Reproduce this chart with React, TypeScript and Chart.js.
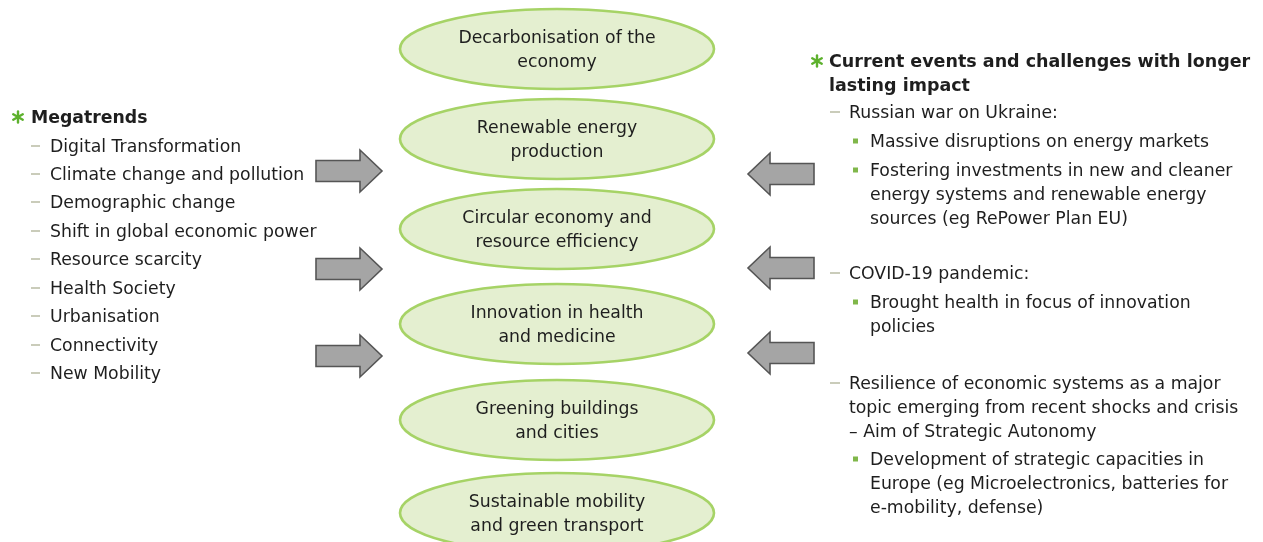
import React, { useEffect, useRef } from "react";
import { Chart, registerables } from "chart.js";
Chart.register(...registerables);

// ---------- content ----------
const focusAreas: string[][] = [
  ["Decarbonisation of the", "economy"],
  ["Renewable energy", "production"],
  ["Circular economy and", "resource efficiency"],
  ["Innovation in health", "and medicine"],
  ["Greening buildings", "and cities"],
  ["Sustainable mobility", "and green transport"],
];
const megatrendsTitle = "Megatrends";
const megatrends = [
  "Digital Transformation",
  "Climate change and pollution",
  "Demographic change",
  "Shift in global economic power",
  "Resource scarcity",
  "Health Society",
  "Urbanisation",
  "Connectivity",
  "New Mobility",
];
const currentTitle = ["Current events and challenges with longer", "lasting impact"];
const currentLevels = [1, 2, 2, 1, 2, 1, 2];
const currentTexts: string[][] = [
  ["Russian war on Ukraine:"],
  ["Massive disruptions on energy markets"],
  ["Fostering investments in new and cleaner", "energy systems and renewable energy", "sources (eg RePower Plan EU)"],
  ["COVID-19 pandemic:"],
  ["Brought health in focus of innovation", "policies"],
  ["Resilience of economic systems as a major", "topic emerging from recent shocks and crisis", "\u2013 Aim of Strategic Autonomy"],
  ["Development of strategic capacities in", "Europe (eg Microelectronics, batteries for", "e-mobility, defense)"],
];

// ---------- layout (canvas units on hidden linear scales) ----------
const focusY = [49, 139, 229, 324, 420, 513];
const focusX = 557;
const rightArrowY = [171, 269, 356];
const leftArrowY = [174, 268, 353];
const megaTitleY = 117;
const megaY = [146, 174, 202, 231, 259, 288, 316, 345, 373];
const currentTitleY = [61, 85];
const currentY = [112, 141, 170, 273, 302, 383, 459];

const FONT = "'DejaVu Sans', Verdana, sans-serif";
const FS = 17.3;
const DY = 1.5;
const TEXT = "#1e1e1e";
const GREEN = "#5db12d";
const DASH = "#b9bba3";
const BULLET = "#80b74a";

function drawStar(ctx: CanvasRenderingContext2D, x: number, y: number) {
  ctx.save();
  ctx.strokeStyle = GREEN;
  ctx.lineWidth = 2.4;
  ctx.lineCap = "round";
  const r = 5.5;
  for (let k = 0; k < 3; k++) {
    const a = Math.PI / 2 + (k * Math.PI) / 3;
    ctx.beginPath();
    ctx.moveTo(x - r * Math.cos(a), y - r * Math.sin(a));
    ctx.lineTo(x + r * Math.cos(a), y + r * Math.sin(a));
    ctx.stroke();
  }
  ctx.restore();
}

function drawArrow(ctx: CanvasRenderingContext2D, tipX: number, y: number, dir: number) {
  const len = 66, headLen = 22, headH = 21, bodyH = 10.5;
  const baseX = tipX - dir * headLen;
  const tailX = tipX - dir * len;
  ctx.save();
  ctx.beginPath();
  ctx.moveTo(tailX, y - bodyH);
  ctx.lineTo(baseX, y - bodyH);
  ctx.lineTo(baseX, y - headH);
  ctx.lineTo(tipX, y);
  ctx.lineTo(baseX, y + headH);
  ctx.lineTo(baseX, y + bodyH);
  ctx.lineTo(tailX, y + bodyH);
  ctx.closePath();
  ctx.fillStyle = "#a5a5a5";
  ctx.fill();
  ctx.strokeStyle = "#555555";
  ctx.lineWidth = 1.6;
  ctx.lineJoin = "miter";
  ctx.stroke();
  ctx.restore();
}

const diagramPlugin = {
  id: "diagram",
  afterDraw(chart: any) {
    const ctx: CanvasRenderingContext2D = chart.ctx;
    const sx = (v: number) => chart.scales.x.getPixelForValue(v);
    const sy = (v: number) => chart.scales.y.getPixelForValue(v);
    ctx.save();
    ctx.textBaseline = "middle";

    // ellipses
    focusAreas.forEach((lines, i) => {
      const cx = sx(focusX), cy = sy(focusY[i]);
      ctx.beginPath();
      ctx.ellipse(cx, cy, sx(157) - sx(0), Math.abs(sy(40) - sy(0)), 0, 0, Math.PI * 2);
      ctx.fillStyle = "#e4efd0";
      ctx.fill();
      ctx.strokeStyle = "#a6d366";
      ctx.lineWidth = 2.6;
      ctx.stroke();
      ctx.fillStyle = TEXT;
      ctx.font = `${FS}px ${FONT}`;
      ctx.textAlign = "center";
      lines.forEach((t, j) => {
        ctx.fillText(t, cx, cy + DY + (j - (lines.length - 1) / 2) * 24, 240);
      });
    });

    // arrows
    rightArrowY.forEach((y) => drawArrow(ctx, sx(382), sy(y), 1));
    leftArrowY.forEach((y) => drawArrow(ctx, sx(748), sy(y), -1));

    ctx.textAlign = "left";
    // megatrends
    drawStar(ctx, sx(18), sy(megaTitleY));
    ctx.fillStyle = TEXT;
    ctx.font = `bold ${FS}px ${FONT}`;
    ctx.fillText(megatrendsTitle, sx(31), sy(megaTitleY) + DY, 118);
    ctx.font = `${FS}px ${FONT}`;
    megatrends.forEach((t, i) => {
      const y = sy(megaY[i]);
      ctx.strokeStyle = DASH;
      ctx.lineWidth = 1.5;
      ctx.beginPath();
      ctx.moveTo(sx(31), y);
      ctx.lineTo(sx(40), y);
      ctx.stroke();
      ctx.fillStyle = TEXT;
      ctx.fillText(t, sx(50), y + DY);
    });

    // current events
    drawStar(ctx, sx(817), sy(currentTitleY[0]));
    ctx.font = `bold 17.5px ${FONT}`;
    ctx.fillStyle = TEXT;
    currentTitle.forEach((t, i) => ctx.fillText(t, sx(829), sy(currentTitleY[i]) + DY, 424));
    ctx.font = `${FS}px ${FONT}`;
    currentTexts.forEach((lines, i) => {
      const lvl = currentLevels[i];
      const y0 = sy(currentY[i]);
      if (lvl === 1) {
        ctx.strokeStyle = DASH;
        ctx.lineWidth = 1.5;
        ctx.beginPath();
        ctx.moveTo(sx(830), y0);
        ctx.lineTo(sx(840), y0);
        ctx.stroke();
      } else {
        ctx.fillStyle = BULLET;
        ctx.fillRect(sx(853), y0 - 2.5, 5, 5);
      }
      ctx.fillStyle = TEXT;
      const tx = lvl === 1 ? 849 : 870;
      lines.forEach((t, j) => {
        ctx.fillText(t, sx(tx), y0 + DY + j * 24, 1258 - tx);
      });
    });
    ctx.restore();
  },
};

export default function App() {
  const ref = useRef<HTMLCanvasElement>(null);
  useEffect(() => {
    document.body.style.margin = "0";
    document.body.style.background = "#ffffff";
    const chart = new Chart(ref.current!, {
      type: "scatter",
      data: {
        datasets: [
          {
            label: "focus",
            data: focusY.map((y) => ({ x: focusX, y })),
            pointRadius: 0,
            showLine: false,
          },
        ],
      },
      options: {
        responsive: false,
        animation: false,
        layout: { padding: 0 },
        plugins: { legend: { display: false }, tooltip: { enabled: false } },
        events: [],
        scales: {
          x: { type: "linear", min: 0, max: 1263, display: false },
          y: { type: "linear", min: 0, max: 542, reverse: true, display: false },
        },
      },
      plugins: [diagramPlugin],
    });
    return () => chart.destroy();
  }, []);
  return (
    <div style={{ position: "absolute", left: 0, top: 0, width: 1263, height: 542, background: "#fff" }}>
      <canvas ref={ref} width={1263} height={542} />
    </div>
  );
}
